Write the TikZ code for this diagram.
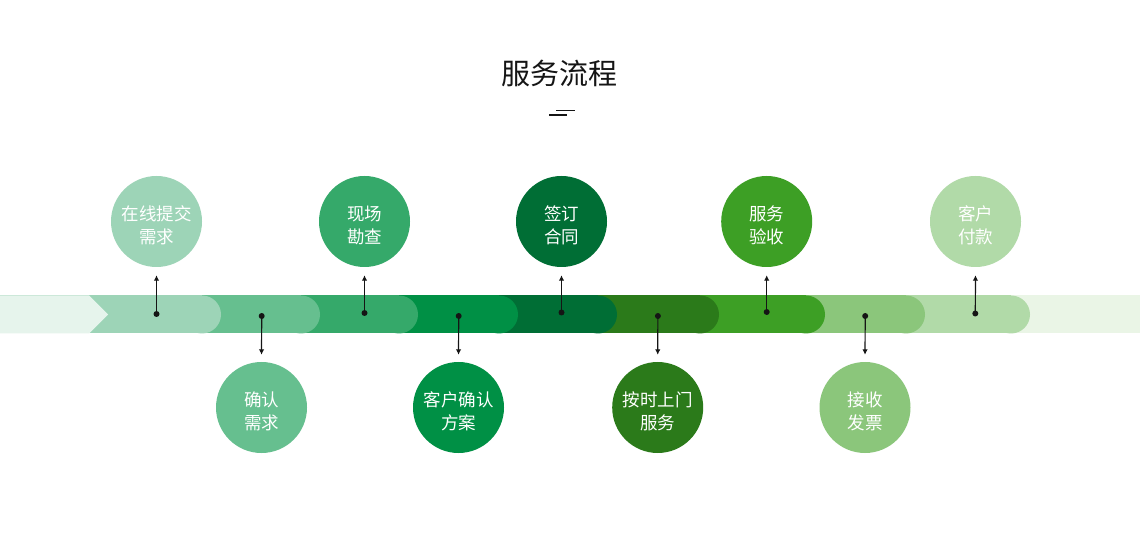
\documentclass[tikz,border=0pt]{standalone}
\usepackage{fontspec}
\newfontfamily\cjk{Noto Sans CJK SC}
\usetikzlibrary{arrows.meta}
\definecolor{bgband}{HTML}{EAF5E6}
\definecolor{chev}{HTML}{E6F4EC}
\definecolor{cA}{HTML}{9DD4B7}
\definecolor{cB}{HTML}{66BF8F}
\definecolor{cC}{HTML}{35A96A}
\definecolor{cD}{HTML}{009045}
\definecolor{cE}{HTML}{006E35}
\definecolor{cF}{HTML}{2B7A1A}
\definecolor{cG}{HTML}{3D9F25}
\definecolor{cH}{HTML}{8BC67B}
\definecolor{cI}{HTML}{B1DAA8}
\definecolor{ink}{HTML}{151515}
\tikzset{
  stepcircle/.style={circle, minimum size=91pt, inner sep=0pt},
  steptext/.style={text=white, align=center, inner sep=0pt, yshift=-3.8pt,
    font=\cjk\fontsize{17.5}{23.5}\selectfont},
  dotnode/.style={circle, fill=ink, minimum size=6pt, inner sep=0pt},
  link/.style={draw=ink, line width=1.2pt, -{Latex[length=5.5pt,width=5.5pt]}},
}
\begin{document}
\begin{tikzpicture}[x=1pt,y=-1pt]
\useasboundingbox (0,0) rectangle (1140,534);
\fill[white] (0,0) rectangle (1140,534);
% title
\node[font=\cjk\fontsize{29}{34}\selectfont, text=ink] (title) at (559,73.5) {服务流程};
\draw[ink, line width=1.5pt] (556,110.7) -- (575,110.7);
\draw[ink, line width=1.5pt] (549,115) -- (567,115);
% band
\fill[bgband] (0,295.5) rectangle (1140,333.5);
\foreach \e/\c in {1030/cI,925/cH,825/cG,719/cF,617/cE,518/cD,418/cC,320/cB,221/cA}{
  \fill[\c] (0,295.5) rectangle (\e-19,333.5);
  \fill[\c] (\e-19,314.5) circle[radius=19];
}
\fill[chev] (0,295.5) -- (89,295.5) -- (108,314.5) -- (89,333.5) -- (0,333.5) -- cycle;
% circles
\node[stepcircle, fill=cA, label={[steptext]center:在线提交\\需求}] (c1) at (156.5,221.5) {};
\node[stepcircle, fill=cB, label={[steptext]center:确认\\需求}] (c2) at (261.5,407.5) {};
\node[stepcircle, fill=cC, label={[steptext]center:现场\\勘查}] (c3) at (364.5,221.5) {};
\node[stepcircle, fill=cD, label={[steptext]center:客户确认\\方案}] (c4) at (458.5,407.5) {};
\node[stepcircle, fill=cE, label={[steptext]center:签订\\合同}] (c5) at (561.5,221.5) {};
\node[stepcircle, fill=cF, label={[steptext]center:按时上门\\服务}] (c6) at (657.7,407.5) {};
\node[stepcircle, fill=cG, label={[steptext]center:服务\\验收}] (c7) at (766.7,221.5) {};
\node[stepcircle, fill=cH, label={[steptext]center:接收\\发票}] (c8) at (865,407.5) {};
\node[stepcircle, fill=cI, label={[steptext]center:客户\\付款}] (c9) at (975.5,221.5) {};
% dots
\node[dotnode] (d1) at (156.5,314) {};
\node[dotnode] (d2) at (261.7,316) {};
\node[dotnode] (d3) at (364.5,313) {};
\node[dotnode] (d4) at (458.7,316) {};
\node[dotnode] (d5) at (561.5,312.5) {};
\node[dotnode] (d6) at (657.9,316) {};
\node[dotnode] (d7) at (766.7,312) {};
\node[dotnode] (d8) at (865.2,316) {};
\node[dotnode] (d9) at (975.3,313.5) {};
% connectors
\foreach \i in {1,3,5,7,9}{
  \draw[link, shorten >=8pt] (d\i.center) -- (c\i.south);
}
\foreach \i in {2,4,6,8}{
  \draw[link, shorten >=7pt] (d\i.center) -- (c\i.north);
}
\end{tikzpicture}
\end{document}
